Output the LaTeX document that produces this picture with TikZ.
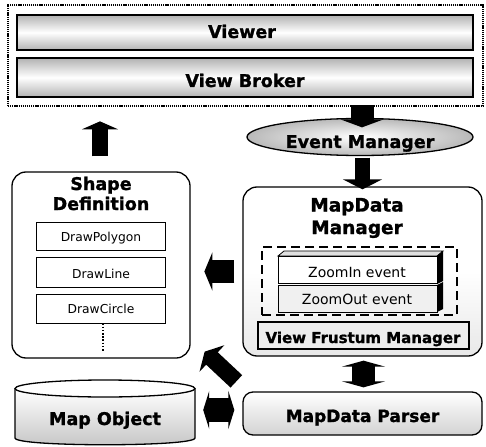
\documentclass[tikz,border=0pt]{standalone}
\usepackage{fontspec}
\setmainfont{DejaVu Sans}[BoldFeatures={FakeBold=1.3}]
\usetikzlibrary{arrows.meta,shapes.geometric}
\tikzset{
  box/.style={draw, inner sep=0pt},
  bar/.style={box, line width=2.3pt, minimum width=456pt, top color=gray!60, bottom color=gray!60, middle color=white},
  rbox/.style={box, line width=1.3pt, rounded corners=14pt},
  ttl/.style={anchor=base, inner sep=0pt, font=\bfseries\fontsize{17.5}{20}\selectfont},
  sml/.style={anchor=base, inner sep=0pt, font=\fontsize{12.3}{14}\selectfont},
  mid/.style={anchor=base, inner sep=0pt, font=\fontsize{14}{16}\selectfont},
  item/.style={box, line width=0.8pt, minimum width=129pt},
  fatarrow/.style n args={3}{line width=#1, -{Triangle[length=#3, width=#2]}},
  fatdouble/.style n args={3}{line width=#1, {Triangle[length=#3, width=#2]}-{Triangle[length=#3, width=#2]}},
}
\begin{document}
\begin{tikzpicture}[x=1pt,y=-1pt]
\useasboundingbox (0,0) rectangle (486,446);
% top frame
\node[box, line width=1.1pt, dash pattern=on 1.2pt off 0.9pt, minimum width=475pt, minimum height=101pt] (outer) at (245.5,55.5) {};
\node[bar, minimum height=35pt] (viewer) at (245,32.5) {};
\node[ttl] (viewertxt) at (242,38) {Viewer};
\node[bar, minimum height=39pt] (broker) at (245,77.5) {};
\node[ttl] (brokertxt) at (245,87) {View Broker};
% event manager
\node[draw, ellipse, line width=1.3pt, inner color=white, outer color=gray!55, minimum width=226pt, minimum height=37pt, inner sep=0pt] (event) at (360,137) {};
\node[ttl, font=\bfseries\fontsize{17.5}{20}\selectfont] (eventtxt) at (360,148) {Event Manager};
% shape definition
\node[rbox, minimum width=178pt, minimum height=186pt] (shape) at (101,265) {};
\node[ttl] (shapetxt1) at (101,190) {Shape};
\node[ttl] (shapetxt2) at (101,210) {Definition};
\node[item, minimum height=28pt] (poly) at (101,236) {};
\node[sml] (polytxt) at (101,241) {DrawPolygon};
\node[item, minimum height=30pt] (line) at (101,272) {};
\node[sml] (linetxt) at (101,278) {DrawLine};
\node[item, minimum height=29pt] (circ) at (101,308.5) {};
\node[sml] (circtxt) at (101,313) {DrawCircle};
\draw[line width=1.6pt, dash pattern=on 1.6pt off 1.6pt] ([xshift=2pt]circ.south) -- ([xshift=2pt,yshift=-28pt]circ.south);
% mapdata manager
\node[rbox, minimum width=239pt, minimum height=169pt, top color=white, bottom color=gray!18, middle color=white] (mdm) at (362.5,271.5) {};
\node[ttl, font=\bfseries\fontsize{18.5}{20}\selectfont] (mdmtxt1) at (357,211.5) {MapData};
\node[ttl, font=\bfseries\fontsize{18.5}{20}\selectfont] (mdmtxt2) at (357,234) {Manager};
\node[box, line width=1.8pt, dash pattern=on 9pt off 5pt, minimum width=195pt, minimum height=68pt] (dash) at (359.5,281) {};
% ZoomIn 3D box
\fill[gray!25, draw=black, line width=0.8pt] (278,256) -- (284,251) -- (443,251) -- (437,256) -- cycle;
\fill[black] (437,256) -- (443,251) -- (443,281) -- (437,284) -- cycle;
\node[item, minimum width=159pt, minimum height=27pt, fill=white] (zin) at (357.5,269.5) {};
\node[mid] (zintxt) at (357,277) {ZoomIn event};
\fill[black] (437,285) -- (443,282) -- (443,309) -- (437,312) -- cycle;
\node[item, minimum width=159pt, minimum height=27pt, fill=gray!12] (zout) at (357.5,298.5) {};
\node[mid] (zouttxt) at (357,304) {ZoomOut event};
% view frustum manager
\node[box, line width=1.3pt, minimum width=211pt, minimum height=27pt, fill=gray!14] (vfm) at (363.5,335.5) {};
\node[ttl, font=\bfseries\fontsize{15}{16}\selectfont] (vfmtxt) at (363,343) {View Frustum Manager};
% mapdata parser
\node[rbox, rounded corners=10pt, minimum width=239pt, minimum height=43pt, top color=white, bottom color=gray!35] (parser) at (362.5,413.5) {};
\node[ttl, font=\bfseries\fontsize{17}{20}\selectfont] (parsertxt) at (362.5,422) {MapData Parser};
% map object cylinder
\coordinate (mo1) at (15,388.5);
\coordinate (mo2) at (195,388.5);
\path[top color=white, bottom color=gray!45] (15,388.5) -- (15,438) .. controls (15,447) and (195,447) .. (195,438) -- (195,388.5) -- cycle;
\draw[line width=1.3pt, fill=white] (105,388.5) ellipse [x radius=90pt, y radius=8.5pt];
\draw[line width=1.3pt] (mo1) -- (15,438) .. controls (15,447) and (195,447) .. (195,438) -- (mo2);
\node[inner sep=0pt, minimum width=180pt, minimum height=65pt] (mapobj) at (105,412.5) {};
\node[ttl] (mapobjtxt) at (105,425) {Map Object};
% block arrows
\draw[fatarrow={16pt}{36pt}{8pt}] ([xshift=-1pt,yshift=15pt]shape.north) -- ([xshift=-1pt,yshift=50pt]shape.north);
\draw[fatarrow={23pt}{43pt}{8pt}] ([xshift=2pt,yshift=12.5pt]event.north) -- ([xshift=2pt,yshift=-9.5pt]event.north);
\draw[fatarrow={15pt}{39pt}{10pt}] ([xshift=2.5pt,yshift=-1.5pt]event.south) -- ([yshift=-3pt]mdm.north);
\draw[fatarrow={23pt}{38pt}{8pt}] ([xshift=-8pt]mdm.west) -- ([xshift=-38pt]mdm.west);
\draw[fatdouble={23pt}{43pt}{6pt}] ([xshift=1pt,yshift=-4pt]mdm.south) -- ([xshift=1pt,yshift=4pt]parser.north);
\draw[fatdouble={24pt}{38pt}{6pt}] ([xshift=-8pt,yshift=3.5pt]parser.west) -- ([xshift=8pt,yshift=2.5pt]mapobj.east);
\draw[fatarrow={17pt}{36pt}{10pt}] ([xshift=-6pt,yshift=10pt]parser.north west) -- ([xshift=14pt,yshift=7pt]shape.south east);
\end{tikzpicture}
\end{document}
